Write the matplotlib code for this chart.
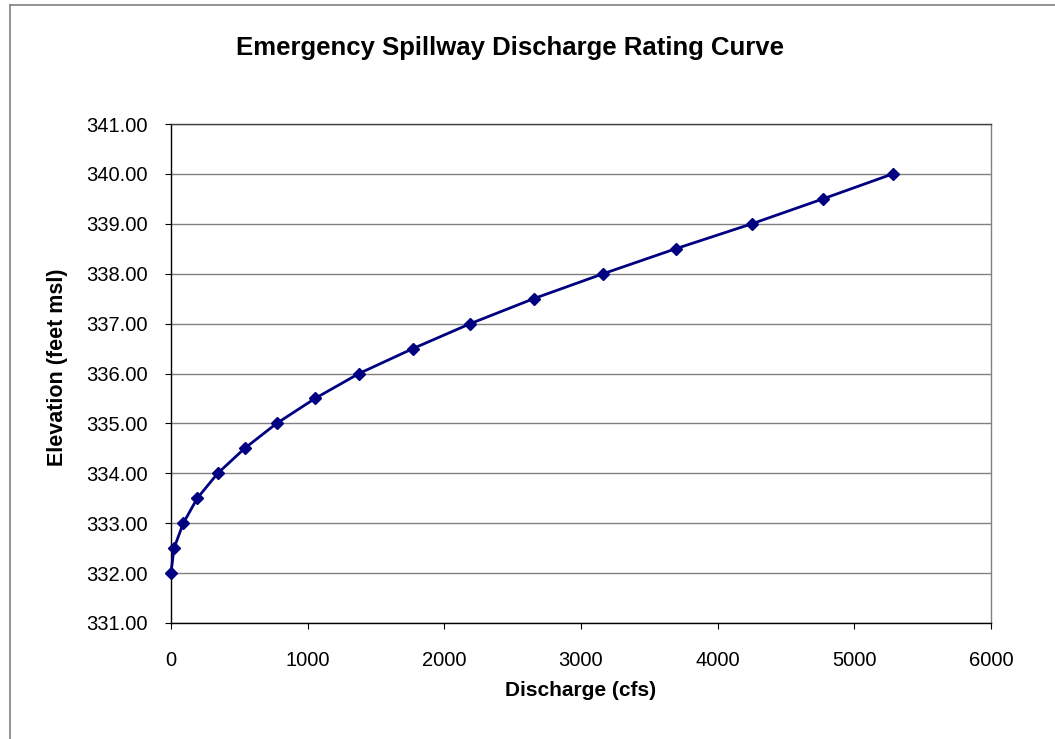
import matplotlib
matplotlib.use("Agg")
import matplotlib.pyplot as plt
from matplotlib.lines import Line2D

# Rating curve values
discharge = [0, 22, 90, 192, 342, 539, 773, 1054, 1376, 1771,
             2191, 2654, 3163, 3693, 4250, 4771, 5281]
elevation = [332.0, 332.5, 333.0, 333.5, 334.0, 334.5, 335.0, 335.5, 336.0,
             336.5, 337.0, 337.5, 338.0, 338.5, 339.0, 339.5, 340.0]

x_ticks = [0, 1000, 2000, 3000, 4000, 5000, 6000]
y_ticks = [331, 332, 333, 334, 335, 336, 337, 338, 339, 340, 341]

plt.rcParams["font.family"] = ["Liberation Sans", "DejaVu Sans"]

fig = plt.figure(figsize=(10.55, 7.39), dpi=100)
ax = fig.add_axes([171 / 1055, 1 - 623 / 739, 820 / 1055, 499 / 739])

ax.plot(discharge, elevation, color="#000080", linewidth=2.0,
        marker="D", markersize=6.5, markerfacecolor="#000080",
        markeredgecolor="#000080", zorder=3, clip_on=False)

ax.set_xlim(0, 6000)
ax.set_ylim(331, 341)
ax.set_xticks(x_ticks)
ax.set_yticks(y_ticks)
ax.set_yticklabels([f"{v:.2f}" for v in y_ticks])
ax.tick_params(axis="both", direction="out", length=4.5, width=0.8,
               labelsize=14.5, colors="black")
ax.tick_params(axis="y", pad=12)
ax.tick_params(axis="x", pad=16)

ax.grid(axis="y", color="#808080", linewidth=1.0)
ax.set_axisbelow(True)

ax.spines["left"].set_color("black")
ax.spines["bottom"].set_color("black")
ax.spines["top"].set_color("#404040")
ax.spines["right"].set_color("#808080")
for s in ax.spines.values():
    s.set_linewidth(1.0)

# axis titles and chart title placed where the reference has them
fig.text(581 / 1055, 1 - 690 / 739, "Discharge (cfs)",
         ha="center", va="center", fontsize=15, fontweight="bold")
fig.text(58 / 1055, 1 - 367 / 739, "Elevation (feet msl)", rotation=90,
         ha="center", va="center", fontsize=15.5, fontweight="bold")
fig.text(510 / 1055, 1 - 48 / 739, "Emergency Spillway Discharge Rating Curve",
         ha="center", va="center", fontsize=18.5, fontweight="bold")

# chart frame (only top and left edges are visible in the crop)
fig.add_artist(Line2D([10 / 1055, 1], [1 - 5 / 739, 1 - 5 / 739],
                      transform=fig.transFigure, color="#808080", linewidth=1.2))
fig.add_artist(Line2D([10 / 1055, 10 / 1055], [0, 1 - 5 / 739],
                      transform=fig.transFigure, color="#808080", linewidth=1.2))

fig.savefig("out.png", dpi=100, facecolor="white")
